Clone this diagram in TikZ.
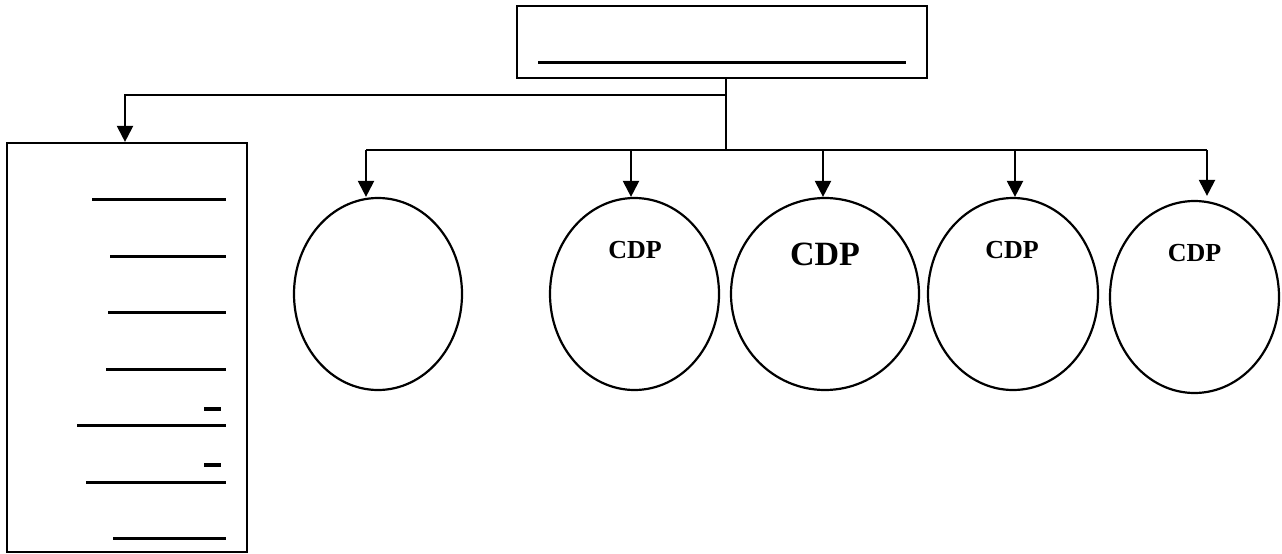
\documentclass[tikz,border=0pt]{standalone}
\usepackage{fontspec}
\setmainfont{Liberation Serif}
\usetikzlibrary{arrows.meta,shapes.geometric}
\begin{document}
\begin{tikzpicture}[x=1pt,y=-1pt,
  blob/.style={draw,ellipse,line width=2.2pt,inner sep=0pt,minimum width=168pt,minimum height=192pt},
  conn/.style={line width=2.2pt},
  arr/.style={conn,-{Triangle[width=16pt,length=16pt]}},
  uline/.style={line width=3pt},
  tick/.style={line width=4pt},
  cdp/.style={font=\bfseries\fontsize{26}{28}\selectfont,inner sep=0pt,anchor=center},
  cdpbig/.style={font=\bfseries\fontsize{34}{36}\selectfont,inner sep=0pt,anchor=center}]
\useasboundingbox (0,0) rectangle (1282,554);
% top box
\node[draw,line width=2.2pt,minimum width=410pt,minimum height=72pt,inner sep=0pt] (top) at (722,42) {};
\draw[uline] (538,62) -- (906,62);
% left box
\node[draw,line width=2.2pt,minimum width=240pt,minimum height=409pt,inner sep=0pt] (left) at (127,347.5) {};
\draw[uline] (92,199) -- (226,199);
\draw[uline] (110,256) -- (226,256);
\draw[uline] (108,312) -- (226,312);
\draw[uline] (106,369) -- (226,369);
\draw[tick] (204,409) -- (221,409);
\draw[uline] (77,425) -- (226,425);
\draw[tick] (204,465) -- (221,465);
\draw[uline] (86,482) -- (226,482);
\draw[uline] (113,538) -- (226,538);
% ellipses
\node[blob] (e1) at (378,294) {};
\node[blob,minimum width=169pt] (e2) at (634.5,294) {};
\node[blob,minimum width=188pt] (e3) at (825,294) {};
\node[blob,minimum width=170pt] (e4) at (1013,294) {};
\node[blob,minimum width=169pt] (e5) at (1194.5,297) {};
\node[cdp] (t2) at (635,250) {CDP};
\node[cdpbig] (t3) at (825,254.5) {CDP};
\node[cdp] (t4) at (1012,250) {CDP};
\node[cdp] (t5) at (1194.5,253) {CDP};
% connectors
\coordinate (j1) at (726,95);
\coordinate (j2) at (726,150);
\coordinate (la) at (125,95);
\coordinate (h1) at (366,150);
\coordinate (h2) at (631,150);
\coordinate (h3) at (823,150);
\coordinate (h4) at (1015,150);
\coordinate (h5) at (1207,150);
\draw[conn] (top.south -| j1) -- (j2);
\draw[arr] (j1) -- (la) -- (la |- left.north);
\draw[conn] (h1) -- (h5);
\draw[arr] (h1) -- (h1 |- e1.north);
\draw[arr] (h2) -- (h2 |- e2.north);
\draw[arr] (h3) -- (h3 |- e3.north);
\draw[arr] (h4) -- (h4 |- e4.north);
\draw[arr] (h5) -- ([yshift=4pt]h5 |- e5.north);
\end{tikzpicture}
\end{document}
